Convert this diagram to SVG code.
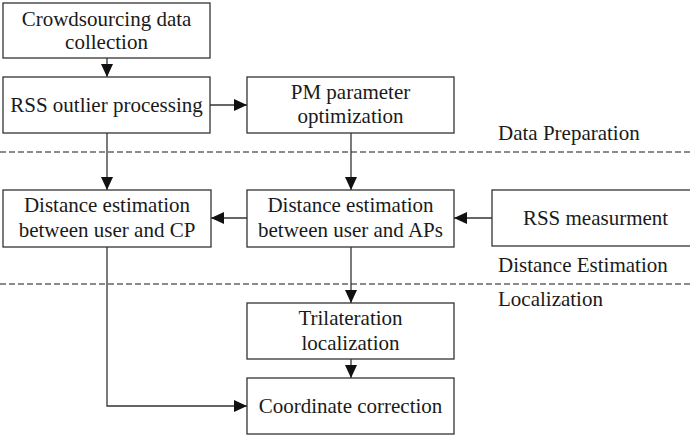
<svg xmlns="http://www.w3.org/2000/svg" width="690" height="437" viewBox="0 0 690 437">
<defs>
<style>
.box{fill:#fff;stroke:#333;stroke-width:1.3}
text{font-family:'Liberation Serif','Tinos','Times New Roman','DejaVu Serif',serif;font-size:21px;fill:#1a1a1a}
.t{text-anchor:middle}
.c{fill:none;stroke:#333;stroke-width:1.3}
.dash{stroke:#666;stroke-width:1.3;stroke-dasharray:6 3;fill:none}
</style>
<marker id="ah" viewBox="0 0 13 12" refX="13" refY="6" markerWidth="13" markerHeight="12" markerUnits="userSpaceOnUse" orient="auto">
<path d="M0,0 L13,6 L0,12 z" fill="#111"/>
</marker>
</defs>
<rect width="690" height="437" fill="#fff"/>
<g id="separators">
<line class="dash" x1="0" y1="152" x2="690" y2="152"/>
<line class="dash" x1="0" y1="284" x2="690" y2="284"/>
<text x="498" y="140">Data Preparation</text>
<text x="498" y="272">Distance Estimation</text>
<text x="498" y="306">Localization</text>
</g>
<g id="connectors">
<line class="c" x1="107" y1="58" x2="107" y2="77" marker-end="url(#ah)"/>
<line class="c" x1="210" y1="105" x2="247" y2="105" marker-end="url(#ah)"/>
<line class="c" x1="107" y1="133" x2="107" y2="190" marker-end="url(#ah)"/>
<line class="c" x1="351" y1="133" x2="351" y2="190" marker-end="url(#ah)"/>
<line class="c" x1="247" y1="218" x2="211" y2="218" marker-end="url(#ah)"/>
<line class="c" x1="492" y1="218" x2="454" y2="218" marker-end="url(#ah)"/>
<line class="c" x1="351" y1="247" x2="351" y2="303" marker-end="url(#ah)"/>
<line class="c" x1="351" y1="359" x2="351" y2="378" marker-end="url(#ah)"/>
<polyline class="c" points="107,247 107,406 247,406" marker-end="url(#ah)"/>
</g>
<g id="crowdsourcing">
<rect class="box" x="3" y="3" width="207" height="55"/>
<text class="t" x="106.5" y="26">Crowdsourcing data</text>
<text class="t" x="106.5" y="49">collection</text>
</g>
<g id="rss-outlier">
<rect class="box" x="3" y="77" width="207" height="56"/>
<text class="t" x="106.5" y="112">RSS outlier processing</text>
</g>
<g id="pm-param">
<rect class="box" x="247" y="77" width="207" height="56"/>
<text class="t" x="350.5" y="99">PM parameter</text>
<text class="t" x="350.5" y="123">optimization</text>
</g>
<g id="dist-cp">
<rect class="box" x="3" y="190" width="208" height="57"/>
<text class="t" x="107" y="212">Distance estimation</text>
<text class="t" x="107" y="237">between user and CP</text>
</g>
<g id="dist-aps">
<rect class="box" x="247" y="190" width="207" height="57"/>
<text class="t" x="350.5" y="212">Distance estimation</text>
<text class="t" x="350.5" y="237">between user and APs</text>
</g>
<g id="rss-meas">
<rect class="box" x="492" y="190" width="207" height="56"/>
<text class="t" x="595.5" y="225">RSS measurment</text>
</g>
<g id="trilateration">
<rect class="box" x="247" y="303" width="207" height="56"/>
<text class="t" x="350.5" y="325">Trilateration</text>
<text class="t" x="350.5" y="350">localization</text>
</g>
<g id="coord-corr">
<rect class="box" x="247" y="378" width="207" height="56"/>
<text class="t" x="350.5" y="413">Coordinate correction</text>
</g>
</svg>
